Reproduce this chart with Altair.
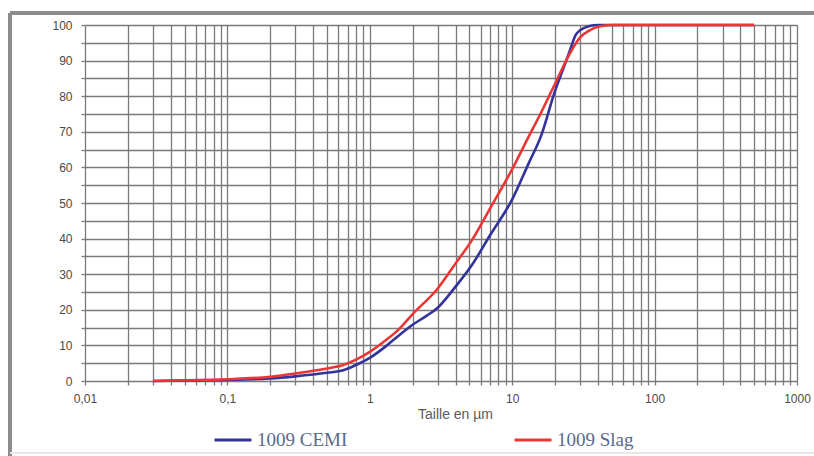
import altair as alt
import pandas as pd

# particle size (µm)
sizes_cemi = [0.03, 0.05, 0.1, 0.2, 0.3, 0.5, 0.65, 0.8, 1, 1.3, 1.6, 2, 2.5, 3, 4, 5.3, 7, 10, 13, 16, 20, 22, 25, 28, 30, 35, 40, 50, 100, 200, 500]
cemi =       [0.0, 0.1, 0.3, 0.7, 1.3, 2.3, 3.0, 4.5, 6.5, 9.8, 12.8, 15.8, 18.3, 20.6, 26.5, 33.0, 41.0, 51.0, 61.0, 69.0, 81.5, 86.0, 92.0, 97.3, 98.5, 99.7, 100, 100, 100, 100, 100]
sizes_slag = [0.03, 0.05, 0.1, 0.2, 0.3, 0.5, 0.65, 0.8, 1, 1.3, 1.6, 2, 3, 4, 5.3, 7, 10, 13, 16, 20, 25, 30, 35, 40, 50, 100, 200, 500]
slag =       [0.0, 0.2, 0.5, 1.2, 2.1, 3.5, 4.5, 6.0, 8.2, 11.5, 14.5, 18.8, 26.0, 33.0, 40.0, 48.5, 59.5, 68.5, 75.5, 83.5, 91.5, 96.5, 98.5, 99.5, 100, 100, 100, 100]
series_names = ["1009 CEMI", "1009 Slag"]
series_colors = ["#33339c", "#ee3535"]

x_grid = [round(m * 10 ** e, 6) for e in range(-2, 3) for m in range(1, 10)] + [1000]
y_grid = list(range(0, 101, 5))

rows = []
for s, v in zip(sizes_cemi, cemi):
    rows.append({"size": s, "pct": v, "serie": series_names[0], "o": 0})
for s, v in zip(sizes_slag, slag):
    rows.append({"size": s, "pct": v, "serie": series_names[1], "o": 1})
df = pd.DataFrame(rows)

grid_color = "#7a7a7a"

lines = alt.Chart(df).mark_line(strokeWidth=2.6, interpolate="monotone").encode(
    x=alt.X("size:Q",
            scale=alt.Scale(type="log", domain=[0.01, 1000], nice=False),
            axis=alt.Axis(values=x_grid, grid=True, gridColor=grid_color, gridWidth=1.3, gridOpacity=1,
                          domain=False, ticks=True, tickSize=4, tickColor=grid_color, tickWidth=1.3,
                          labelExpr="abs(log(datum.value)/LN10 - round(log(datum.value)/LN10)) < 0.000001 ? replace('' + datum.value, '.', ',') : ''",
                          labelFont="Liberation Sans", labelFontSize=12, labelColor="#4a4a4a", labelPadding=8,
                          labelFlush=False, labelOverlap=False,
                          title="Taille en µm", titleFont="Liberation Sans", titleFontSize=14,
                          titleFontWeight="normal", titleColor="#5a5a5a", titleX=370, titleY=33,
                          titleBaseline="middle", titleAnchor="middle")),
    y=alt.Y("pct:Q",
            scale=alt.Scale(domain=[0, 100], nice=False),
            axis=alt.Axis(values=y_grid, grid=True, gridColor=grid_color, gridWidth=1.3, gridOpacity=1,
                          domain=False, ticks=True, tickSize=4, tickColor=grid_color, tickWidth=1.3,
                          labelExpr="datum.value % 10 == 0 ? datum.label : ''",
                          labelFont="Liberation Sans", labelFontSize=12, labelColor="#4a4a4a", labelPadding=9,
                          labelOverlap=False, title=None)),
    color=alt.Color("serie:N",
                    scale=alt.Scale(domain=series_names, range=series_colors),
                    legend=alt.Legend(title=None, orient="none", legendX=128, legendY=395,
                                      direction="horizontal", columns=2, columnPadding=160,
                                      symbolType="stroke", symbolSize=1369, symbolStrokeWidth=3,
                                      labelFont="Liberation Serif", labelFontSize=19,
                                      labelColor="#5a6a8c", labelOffset=4)),
    order="o:Q",
)

frame_top = alt.Chart(df).mark_rule(color="#8c8c8c", strokeWidth=2.5).encode(
    x=alt.value(-75), x2=alt.value(729), y=alt.value(-12))
frame_left = alt.Chart(df).mark_rule(color="#8c8c8c", strokeWidth=2.5).encode(
    x=alt.value(-75), y=alt.value(-12), y2=alt.value(431))
frame_bottom = alt.Chart(df).mark_rule(color="#e6e6e6", strokeWidth=1).encode(
    x=alt.value(-75), x2=alt.value(729), y=alt.value(428))

chart = alt.layer(frame_top, frame_left, frame_bottom, lines).properties(
    width=712, height=356,
    autosize=alt.AutoSizeParams(type="none"),
    padding={"left": 85, "top": 25, "right": 17, "bottom": 75},
    background="white",
).configure_view(stroke=None)

chart.save("out.html", embed_options={"renderer": "svg", "actions": False})
